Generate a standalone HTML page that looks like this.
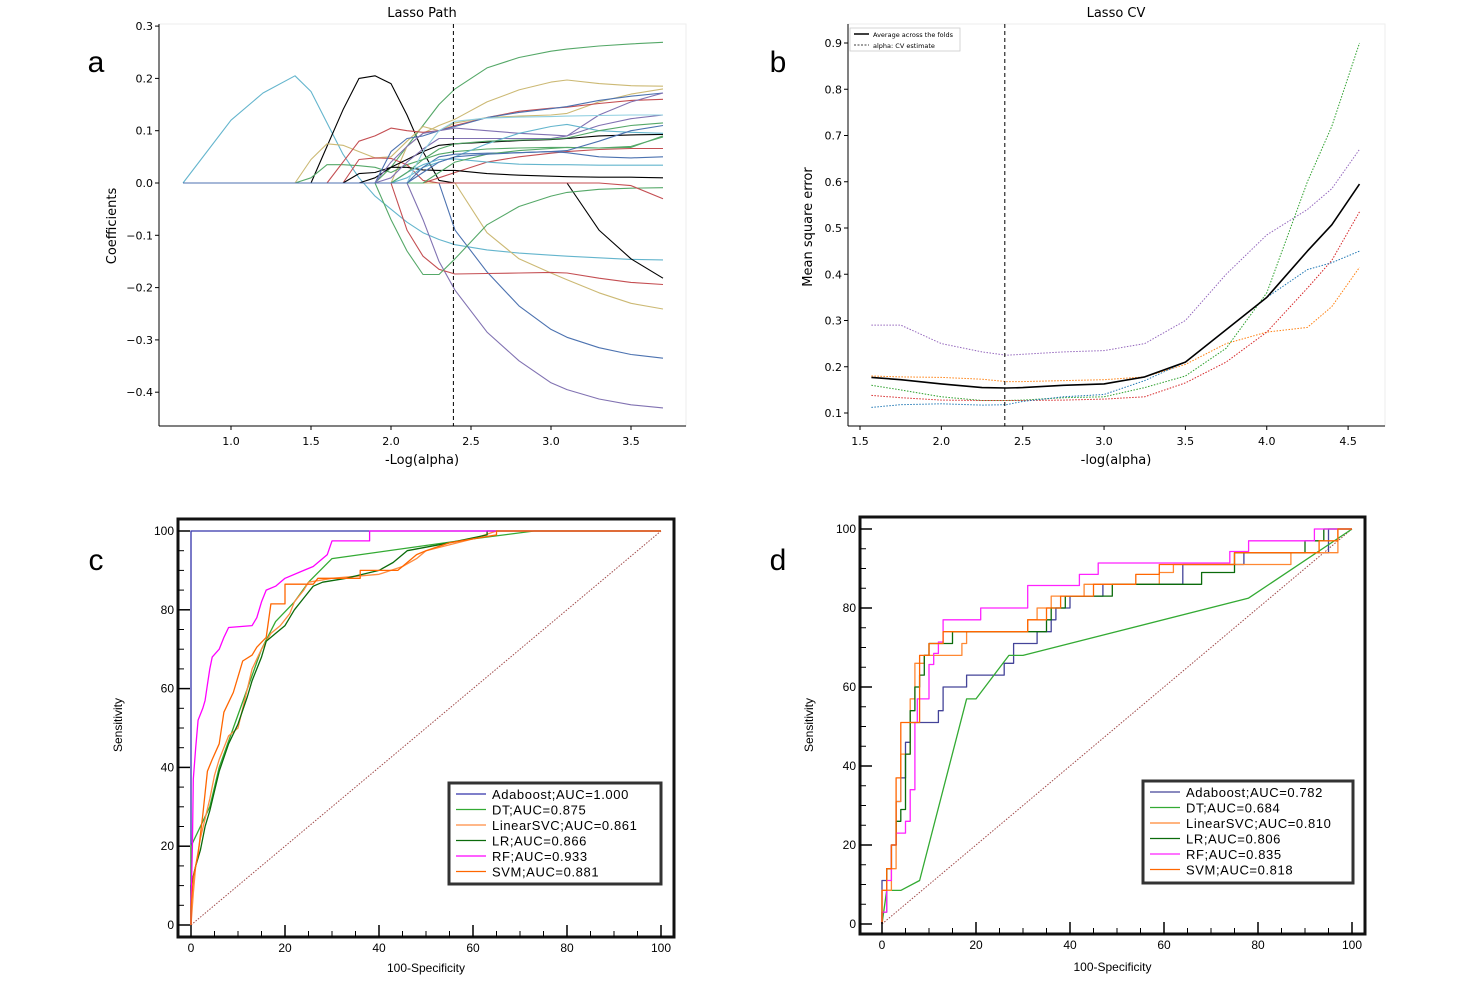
<!DOCTYPE html>
<html><head><meta charset="utf-8">
<style>
html,body{margin:0;padding:0;background:#fff;}
svg{display:block;font-family:"DejaVu Sans","Liberation Sans",sans-serif;}
.roc{font-family:"Liberation Sans",sans-serif;}
</style></head>
<body>
<svg id="fig" width="1482" height="995" viewBox="0 0 1482 995" xmlns="http://www.w3.org/2000/svg">
<rect x="0" y="0" width="1482" height="995" fill="#fff"/>
<text x="96" y="72" font-size="30" font-family="Liberation Sans" text-anchor="middle">a</text>
<text x="778" y="72" font-size="30" font-family="Liberation Sans" text-anchor="middle">b</text>
<text x="96" y="570" font-size="30" font-family="Liberation Sans" text-anchor="middle">c</text>
<text x="778" y="570" font-size="30" font-family="Liberation Sans" text-anchor="middle">d</text>
<g id="pa"></g>
<g id="pb"></g>
<g id="pc" class="roc"></g>
<g id="pd" class="roc"></g>
</svg>
<script>
// ---------- Panel a data ----------
const pathGrid = [0.7,1.0,1.2,1.4,1.5,1.6,1.7,1.8,1.9,2.0,2.1,2.2,2.3,2.4,2.6,2.8,3.0,3.1,3.3,3.5,3.7];
const pathCyanBig   = [0,.12,.172,.205,.175,.115,.055,.01,-.025,-.05,-.075,-.095,-.108,-.118,-.128,-.134,-.138,-.14,-.143,-.146,-.147];
const pathBlackHump = [0,0,0,0,0,.07,.14,.2,.205,.19,.13,.06,.005,0,0,0,0,0,-.09,-.145,-.182];
const pathGreenTop  = [0,0,0,0,0,0,0,0,0,.03,.07,.11,.15,.18,.22,.24,.252,.256,.262,.266,.269];
const pathTanTop    = [0,0,0,0,0,0,0,0,0,0,.07,.095,.11,.122,.155,.178,.193,.197,.19,.186,.185];
const pathPurpleBot = [0,0,0,0,0,0,0,0,0,0,0,-.07,-.15,-.205,-.285,-.34,-.382,-.395,-.413,-.424,-.43];
const pathBlueBot   = [0,0,0,0,0,0,0,0,0,0,0,0,0,-.09,-.17,-.235,-.28,-.295,-.315,-.328,-.335];
const pathTanNeg    = [0,0,0,0,0,0,0,0,0,0,0,0,0,0,-.095,-.145,-.172,-.185,-.21,-.23,-.241];
const pathRedNeg    = [0,0,0,0,0,0,0,0,0,0,-.09,-.14,-.165,-.174,-.173,-.172,-.171,-.172,-.182,-.19,-.194];
const pathGreenV    = [0,0,0,0,0,0,0,0,0,-.07,-.13,-.175,-.175,-.145,-.08,-.045,-.025,-.018,-.012,-.01,-.009];
const pathGreenEarly= [0,0,0,0,.01,.035,.035,.033,.03,.02,.035,.045,.055,.06,.065,.067,.068,.068,.067,.068,.09];
const pathTanEarly  = [0,0,0,0,.045,.075,.072,.06,.048,.05,.08,.108,.1,.115,.125,.128,.13,.133,.155,.17,.18];
const pathRedEarly  = [0,0,0,0,0,0,.04,.08,.09,.105,.1,.097,.1,.11,.125,.137,.143,.145,.152,.158,.16];
const pathRedMid    = [0,0,0,0,0,0,0,.045,.048,.047,.035,.005,0,0,0,0,0,0,0,-.005,-.03];
const pathRedLate   = [0,0,0,0,0,0,0,0,0,0,0,0,.01,.02,.04,.05,.057,.06,.064,.066,.066];
const pathBlackSmall= [0,0,0,0,0,0,0,.018,.02,.03,.03,.025,.024,.024,.018,.015,.013,.012,.011,.011,.01];
const pathBlackMain = [0,0,0,0,0,0,0,0,.01,.03,.045,.06,.072,.075,.078,.081,.083,.085,.09,.092,.093];
const pathBlueA     = [0,0,0,0,0,0,0,0,0,.06,.085,.09,.1,.108,.125,.135,.142,.146,.158,.166,.172];
const pathPurpleA   = [0,0,0,0,0,0,0,0,0,.01,.04,.065,.085,.085,.085,.085,.085,.09,.13,.155,.172];
const pathPurpleB   = [0,0,0,0,0,0,0,0,0,.04,.07,.095,.1,.105,.1,.095,.092,.09,.11,.123,.13];
const pathCyanB     = [0,0,0,0,0,0,0,0,0,0,.01,.03,.04,.05,.075,.095,.108,.112,.1,.097,.095];
const pathBlueB     = [0,0,0,0,0,0,0,0,0,0,0,.03,.05,.055,.057,.058,.06,.058,.05,.048,.05];
const pathCyanC     = [0,0,0,0,0,0,0,0,0,0,.02,.035,.045,.046,.04,.036,.035,.035,.034,.034,.034];
const pathGreenC    = [0,0,0,0,0,0,0,0,0,0,.02,.045,.065,.075,.08,.082,.084,.086,.1,.11,.115];
const pathLtBlue    = [0,0,0,0,0,0,0,0,0,0,0,.06,.1,.118,.124,.126,.127,.128,.129,.13,.13];
const pathGreenD    = [0,0,0,0,0,0,0,0,0,0,0,0,.02,.04,.055,.062,.066,.068,.067,.07,.088];
const pathBlueC     = [0,0,0,0,0,0,0,0,0,0,0,.02,.04,.05,.055,.058,.06,.062,.08,.1,.11];
const pathXTicks = [1.0,1.5,2.0,2.5,3.0,3.5];
const pathYTicks = [0.3,0.2,0.1,0.0,-0.1,-0.2,-0.3,-0.4];
const pathAlpha = 2.39;

// ---------- Panel b data ----------
const cvGrid = [1.57,1.75,2.0,2.25,2.4,2.5,2.75,3.0,3.25,3.5,3.75,4.0,4.25,4.4,4.57];
const cvMean   = [.177,.172,.163,.155,.154,.155,.16,.163,.178,.21,.28,.35,.45,.507,.595];
const cvPurple = [.29,.29,.25,.232,.225,.227,.232,.235,.25,.3,.4,.485,.54,.585,.67];
const cvOrange = [.18,.178,.177,.173,.168,.168,.17,.172,.178,.205,.25,.275,.285,.33,.415];
const cvGreen  = [.16,.15,.135,.127,.127,.128,.133,.135,.155,.18,.24,.36,.6,.72,.9];
const cvRed    = [.138,.133,.128,.127,.127,.127,.128,.13,.135,.165,.21,.275,.37,.43,.535];
const cvBlue   = [.112,.118,.12,.117,.118,.125,.135,.14,.17,.21,.28,.35,.41,.425,.45];
const cvXTicks = [1.5,2.0,2.5,3.0,3.5,4.0,4.5];
const cvYTicks = [0.1,0.2,0.3,0.4,0.5,0.6,0.7,0.8,0.9];
const cvAlpha = 2.39;

// ---------- Panel c data ----------
const cAdaX = [0,0,100];  const cAdaY = [0,100,100];
const cRfX = [0,0,0.3,0.5,1,1.5,2.5,3,3.5,4,4.5,6,7,8,13,14,15,16,18,20,24,26,29,30,38,38,100];
const cRfY = [0,5,20,37,45,52,55,57,61,65,68,70,73,75.5,76,78,82,85,86,88,90,91,94,97.5,97.5,100,100];
const cSvmX = [0,0,0.5,1.5,2.5,3.5,4.5,6,7,9,10,11,13,14,16,17,20,20,26,27,36,36,44,46,48,50,55,65,65,100];
const cSvmY = [0,4,12,18,28,39,42,46,54,59,63,67,68.5,70.5,73,81.5,81.5,86.5,86.5,88,88,90,90,92,94,95,97,99,100,100];
const cLsvcX = [0,0.5,1,2,3,4,5,6,8,10,12,13,15,17,19,21,22,24,25,30,40,45,48,50,60,65,100];
const cLsvcY = [0,8,15,22,27,32,38,42,48,50,60,65,70,74,76,79,82,85,87,88,89,91,93,95,98,100,100];
const cLrX = [0,0,1,2,3,4,5,6,8,10,12,13,15,16,18,20,22,24,26,28,33,40,43,46,55,63,63,100];
const cLrY = [0,10,15,19,25,29,34,39,46,51,58,62,68,72,74,76,80,83,86,87,88,90,92,95,97,99,100,100];
const cDtX = [0,0,2,4,6,9,12,15,18,22,25,30,60,73,100];
const cDtY = [0,20,25,30,40,50,60,70,77,82,87,93,98,100,100];

// ---------- Panel d data ----------
const dAdaX = [0,0,1,1,2,2,3,3,4,4,5,5,6,6,12,12,13,13,18,18,26,26,28,28,33,33,36,36,37,37,40,40,47,47,64,64,77,77,95,95,100];
const dAdaY = [0,11,11,14,14,20,20,31,31,37,37,46,46,51,51,54,54,60,60,63,63,66,66,71,71,74,74,77,77,80,80,83,83,86,86,91,91,94,94,100,100];
const dDtX = [0,1,4,8,18,20,27,30,78,100];
const dDtY = [0,8.5,8.5,11,57,57,68,68,82.5,100];
const dLsvcX = [0,0,2,2,3,3,4,4,6,6,7,7,9,9,17,17,18,18,31,31,33,33,36,36,43,43,59,59,62,62,87,87,97,97,100];
const dLsvcY = [0,8.5,8.5,14,14,31,31,43,43,57,57,66,66,68,68,71,71,74,74,77,77,80,80,83,83,86,86,89,89,91,91,94,94,100,100];
const dLrX = [0,0,1,1,2,2,3,3,4,4,5,5,6,6,7,7,8,8,9,9,10,10,15,15,35,35,36,36,39,39,49,49,68,68,75,75,90,90,94,94,100];
const dLrY = [0,3,3,14,14,20,20,26,26,29,29,43,43,54,54,60,60,63,63,68,68,71,71,74,74,77,77,80,80,83,83,86,86,89,89,94,94,97,97,100,100];
const dRfX = [0,0,1,1,2,2,3,3,5,5,6,6,7,7,7.5,7.5,10,10,11,11,12,12,13,13,21,21,31,31,42,42,46,46,74,74,78,78,92,92,100];
const dRfY = [0,3,3,11,11,20,20,23,23,26,26,34,34,51,51,57,57,65.7,65.7,68.5,68.5,71.4,71.4,77,77,80,80,85.7,85.7,88.5,88.5,91.4,91.4,94.3,94.3,97,97,100,100];
const dSvmX = [0,0,1,1,2,2,3,3,4,4,8,8,10,10,13,13,31,31,35,35,38,38,45,45,54,54,59,59,75,75,93,93,97,97,100];
const dSvmY = [0,8.5,8.5,14,14,20,20,37,37,51,51,68,68,71,71,74,74,77,77,80,80,83,83,86,86,88.5,88.5,91,91,94,94,97,97,100,100];
const rocTicks = [0,20,40,60,80,100];
const rocMinor = [5,10,15,25,30,35,45,50,55,65,70,75,85,90,95];
const cLegend = ["Adaboost;AUC=1.000","DT;AUC=0.875","LinearSVC;AUC=0.861","LR;AUC=0.866","RF;AUC=0.933","SVM;AUC=0.881"];
const dLegend = ["Adaboost;AUC=0.782","DT;AUC=0.684","LinearSVC;AUC=0.810","LR;AUC=0.806","RF;AUC=0.835","SVM;AUC=0.818"];

const NS="http://www.w3.org/2000/svg";
function mk(parent, tag, attrs){
  const e=document.createElementNS(NS,tag);
  for(const k in attrs) e.setAttribute(k,attrs[k]);
  parent.appendChild(e); return e;
}
function txt(parent, x, y, s, size, anchor, name){
  const t=mk(parent,'text',{x:x,y:y,'font-size':size,'text-anchor':anchor||'middle',fill:'#000'});
  t.textContent=s;
  
  
  return t;
}
function poly(parent, xs, ys, fx, fy, color, w, dash, name){
  const pts=xs.map((v,i)=>fx(v).toFixed(1)+','+fy(ys[i]).toFixed(1)).join(' ');
  const p=mk(parent,'polyline',{points:pts,fill:'none',stroke:color,'stroke-width':w,'stroke-linejoin':'round'});
  if(dash) p.setAttribute('stroke-dasharray',dash);
  
  
  return p;
}

// ===== Panel A =====
(function(){
  const g=document.getElementById('pa');
  const X=v=>231+(v-1)*160, Y=v=>183-v*523;
  mk(g,'rect',{x:159,y:24,width:527,height:402,fill:'#fff',stroke:'#eee'});
  const series=[
    [pathCyanBig,'#64b5cd','coef-cyan-1'],[pathBlackHump,'#000','coef-black-1'],[pathGreenTop,'#55a868','coef-green-1'],
    [pathTanTop,'#ccb974','coef-tan-1'],[pathPurpleBot,'#8172b2','coef-purple-1'],[pathBlueBot,'#4c72b0','coef-blue-1'],
    [pathTanNeg,'#ccb974','coef-tan-2'],[pathRedNeg,'#c44e52','coef-red-1'],[pathGreenV,'#55a868','coef-green-2'],
    [pathGreenEarly,'#55a868','coef-green-3'],[pathTanEarly,'#ccb974','coef-tan-3'],[pathRedEarly,'#c44e52','coef-red-2'],
    [pathRedMid,'#c44e52','coef-red-3'],[pathRedLate,'#c44e52','coef-red-4'],[pathBlackSmall,'#000','coef-black-2'],
    [pathBlackMain,'#000','coef-black-3'],[pathBlueA,'#4c72b0','coef-blue-2'],[pathPurpleA,'#8172b2','coef-purple-2'],
    [pathPurpleB,'#8172b2','coef-purple-3'],[pathCyanB,'#64b5cd','coef-cyan-2'],[pathBlueB,'#4c72b0','coef-blue-3'],
    [pathCyanC,'#64b5cd','coef-cyan-3'],[pathGreenC,'#55a868','coef-green-4'],[pathLtBlue,'#8fcfe0','coef-cyan-4'],
    [pathGreenD,'#55a868','coef-green-5'],[pathBlueC,'#4c72b0','coef-blue-4']
  ];
  series.forEach(s=>poly(g,pathGrid,s[0],X,Y,s[1],1.1,null,s[2]));
  const dl=mk(g,'line',{x1:X(pathAlpha),x2:X(pathAlpha),y1:24,y2:426,stroke:'#000','stroke-width':1,'stroke-dasharray':'4,3'});
  
  
  mk(g,'line',{x1:159,x2:159,y1:24,y2:426,stroke:'#000','stroke-width':1});
  mk(g,'line',{x1:159,x2:686,y1:426,y2:426,stroke:'#000','stroke-width':1});
  pathXTicks.forEach(v=>{mk(g,'line',{x1:X(v),x2:X(v),y1:426,y2:430,stroke:'#000'});txt(g,X(v),445,v.toFixed(1),11,'middle','x-tick-label');});
  pathYTicks.forEach(v=>{mk(g,'line',{x1:155,x2:159,y1:Y(v),y2:Y(v),stroke:'#000'});txt(g,153,Y(v)+4,(v<0?'\u2212':'')+Math.abs(v).toFixed(1),11,'end','y-tick-label');});
  txt(g,422,17,'Lasso Path',13,'middle','chart-title');
  txt(g,422,464,'-Log(alpha)',13,'middle','x-axis-title');
  const yt=txt(g,0,0,'Coefficients',13,'middle','y-axis-title');
  yt.setAttribute('transform','translate(116,226) rotate(-90)');
})();

// ===== Panel B =====
(function(){
  const g=document.getElementById('pb');
  const X=v=>860+(v-1.5)*162.7, Y=v=>413-(v-0.1)*462.5;
  mk(g,'rect',{x:848,y:24,width:537,height:402,fill:'#fff',stroke:'#eee'});
  const folds=[[cvPurple,'#9467bd','fold-purple'],[cvOrange,'#ff7f0e','fold-orange'],[cvGreen,'#2ca02c','fold-green'],[cvRed,'#d62728','fold-red'],[cvBlue,'#1f77b4','fold-blue']];
  folds.forEach(s=>poly(g,cvGrid,s[0],X,Y,s[1],1,'1.5,1.5',s[2]));
  poly(g,cvGrid,cvMean,X,Y,'#000',1.6,null,'mean-mse-line');
  const dl=mk(g,'line',{x1:X(cvAlpha),x2:X(cvAlpha),y1:24,y2:426,stroke:'#000','stroke-width':1,'stroke-dasharray':'4,3'});
  
  
  mk(g,'line',{x1:848,x2:848,y1:24,y2:426,stroke:'#000'});
  mk(g,'line',{x1:848,x2:1385,y1:426,y2:426,stroke:'#000'});
  cvXTicks.forEach(v=>{mk(g,'line',{x1:X(v),x2:X(v),y1:426,y2:430,stroke:'#000'});txt(g,X(v),445,v.toFixed(1),11,'middle','x-tick-label');});
  cvYTicks.forEach(v=>{mk(g,'line',{x1:844,x2:848,y1:Y(v),y2:Y(v),stroke:'#000'});txt(g,842,Y(v)+4,v.toFixed(1),11,'end','y-tick-label');});
  txt(g,1116,17,'Lasso CV',13,'middle','chart-title');
  txt(g,1116,464,'-log(alpha)',13,'middle','x-axis-title');
  const yt=txt(g,0,0,'Mean square error',13,'middle','y-axis-title');
  yt.setAttribute('transform','translate(812,227) rotate(-90)');
  const lg=mk(g,'g',{});
  
  
  mk(lg,'rect',{x:850,y:28,width:110,height:23,fill:'#fff',stroke:'#ccc','stroke-width':0.8});
  mk(lg,'line',{x1:854,x2:869,y1:34,y2:34,stroke:'#000','stroke-width':1.5});
  mk(lg,'line',{x1:854,x2:869,y1:45,y2:45,stroke:'#000','stroke-width':0.8,'stroke-dasharray':'2,1.5'});
  txt(lg,873,37,'Average across the folds',6.5,'start','legend-entry-average');
  txt(lg,873,48,'alpha: CV estimate',6.5,'start','legend-entry-alpha');
})();

// ===== ROC panels =====
function rocPanel(id, fx, fy, frame, curves, legend, lgBox, ylabX, xlabY){
  const g=document.getElementById(id);
  const X=fx, Y=fy;
  mk(g,'rect',{x:frame[0],y:frame[1],width:frame[2]-frame[0],height:frame[3]-frame[1],fill:'#fff',stroke:'#111','stroke-width':3});
  const diag=mk(g,'line',{x1:X(0),y1:Y(0),x2:X(100),y2:Y(100),stroke:'#a04a4a','stroke-width':1,'stroke-dasharray':'1.5,1.5'});
  
  
  curves.forEach(c=>poly(g,c[0],c[1],X,Y,c[2],1.3,null,c[3]));
  rocTicks.forEach(v=>{
    mk(g,'line',{x1:X(v),x2:X(v),y1:frame[3],y2:frame[3]-12,stroke:'#000','stroke-width':1.5});
    mk(g,'line',{x1:frame[0],x2:frame[0]+12,y1:Y(v),y2:Y(v),stroke:'#000','stroke-width':1.5});
    txt(g,X(v),frame[3]+15,String(v),12,'middle','x-tick-label');
    txt(g,frame[0]-4,Y(v)+4,String(v),12,'end','y-tick-label');
  });
  rocMinor.forEach(v=>{
    mk(g,'line',{x1:X(v),x2:X(v),y1:frame[3],y2:frame[3]-6,stroke:'#000'});
    mk(g,'line',{x1:frame[0],x2:frame[0]+6,y1:Y(v),y2:Y(v),stroke:'#000'});
  });
  txt(g,(frame[0]+frame[2])/2,xlabY,'100-Specificity',12,'middle','x-axis-title');
  const yt=txt(g,0,0,'Sensitivity',12,'middle','y-axis-title');
  yt.setAttribute('transform','translate('+ylabX+',725) rotate(-90)');
  const lg=mk(g,'g',{});
  
  
  mk(lg,'rect',{x:lgBox[0],y:lgBox[1],width:lgBox[2],height:lgBox[3],fill:'#fff',stroke:'#333','stroke-width':3});
  legend.forEach((s,i)=>{
    const yy=lgBox[1]+11+i*15.5;
    mk(lg,'line',{x1:lgBox[0]+7,x2:lgBox[0]+37,y1:yy,y2:yy,stroke:curves[i][2],'stroke-width':1.3});
    const t=txt(lg,lgBox[0]+43,yy+5,s,13,'start','legend-entry');
    t.setAttribute('letter-spacing','0.6');
  });
}
rocPanel('pc', v=>191+v*4.7, v=>925-v*3.94, [178,519,674,937],
  [[cAdaX,cAdaY,'#3333aa','roc-adaboost'],[cDtX,cDtY,'#33aa33','roc-dt'],[cLsvcX,cLsvcY,'#ff8c40','roc-linearsvc'],
   [cLrX,cLrY,'#0b6b0b','roc-lr'],[cRfX,cRfY,'#ff00ff','roc-rf'],[cSvmX,cSvmY,'#ff6600','roc-svm']],
  cLegend,[449,783,212,101],122,972);
rocPanel('pd', v=>882+v*4.7, v=>924-v*3.95, [860,517,1365,934],
  [[dAdaX,dAdaY,'#444499','roc-adaboost'],[dDtX,dDtY,'#33aa33','roc-dt'],[dLsvcX,dLsvcY,'#ff8833','roc-linearsvc'],
   [dLrX,dLrY,'#0b6b0b','roc-lr'],[dRfX,dRfY,'#ff22ff','roc-rf'],[dSvmX,dSvmY,'#ff6600','roc-svm']],
  dLegend,[1143,781,210,102],813,971);
</script>
</body></html>
